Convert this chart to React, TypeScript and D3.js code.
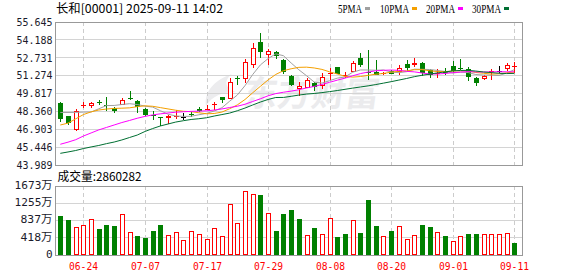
import React from 'react';
import * as d3 from 'd3';

// ---------- data ----------
const dates = [
  '06-19','06-20','06-23','06-24','06-25','06-26','06-27','06-30','07-02','07-03',
  '07-04','07-07','07-08','07-09','07-10','07-11','07-14','07-15','07-16','07-17',
  '07-18','07-21','07-22','07-23','07-24','07-25','07-28','07-29','07-30','07-31',
  '08-01','08-04','08-05','08-06','08-07','08-08','08-11','08-12','08-13','08-14',
  '08-15','08-18','08-19','08-20','08-21','08-22','08-25','08-26','08-27','08-28',
  '08-29','09-01','09-02','09-03','09-04','09-05','09-08','09-09','09-10','09-11',
];
const xTickLabels = ['06-24','07-07','07-17','07-29','08-08','08-20','09-01','09-11'];

const opens = [
  49.07,47.98,46.82,48.76,48.76,49.10,48.84,48.67,48.92,49.45,
  49.20,48.55,48.10,47.90,47.78,47.94,47.90,48.15,48.55,48.51,
  48.90,49.53,49.34,51.04,51.00,52.14,54.01,52.99,53.16,52.52,
  51.24,50.21,50.27,50.65,50.43,51.45,51.94,51.24,51.61,52.68,
  51.59,51.54,51.40,51.67,51.59,52.26,52.12,52.33,51.77,51.45,
  51.53,52.08,51.88,51.79,51.10,50.97,51.60,51.67,51.79,52.03,
];
const highs = [
  49.15,48.02,48.55,49.16,49.15,49.29,49.53,48.70,49.41,50.02,
  49.25,48.60,48.43,47.92,48.10,48.47,48.19,48.31,48.72,48.88,
  49.16,49.55,51.05,51.24,52.63,53.91,54.77,53.47,53.26,52.59,
  51.36,50.73,51.04,50.75,51.46,51.87,52.00,51.60,52.46,53.09,
  53.36,52.55,51.60,51.70,52.14,52.52,52.71,52.41,51.80,51.79,
  51.89,52.43,52.59,52.00,51.18,51.30,51.81,52.03,52.33,52.38,
];
const lows = [
  47.47,47.25,46.76,48.63,48.63,48.84,48.39,48.19,48.84,49.26,
  48.19,48.00,47.63,47.13,47.33,47.74,47.62,47.90,48.27,48.47,
  48.51,49.02,49.34,50.51,50.70,51.87,52.75,52.14,52.59,51.41,
  50.43,49.61,50.24,50.02,50.16,50.90,51.41,51.08,51.55,52.00,
  50.92,51.30,51.35,51.38,51.32,51.67,52.00,51.24,51.08,51.10,
  51.36,51.49,51.73,50.86,50.43,50.95,50.92,51.46,51.67,51.51,
];
const closes = [
  47.74,47.44,48.39,48.90,49.07,49.05,48.76,48.43,49.29,49.40,
  48.72,48.10,48.04,47.82,47.98,48.00,47.90,48.10,48.43,48.55,
  48.96,49.25,50.73,50.97,52.36,53.50,53.16,53.32,52.90,51.61,
  50.53,50.40,50.89,50.32,51.19,51.51,51.43,51.36,52.28,52.10,
  51.49,51.32,51.50,51.40,51.87,51.89,52.33,51.45,51.32,51.49,
  51.47,51.69,51.84,51.14,50.67,51.28,51.65,51.67,52.14,52.06,
];
// volume in 万 shares
const volumes = [
  946,849,672,728,866,631,728,703,994,550,
  461,412,582,728,485,550,364,574,509,380,
  655,461,1229,776,1544,1479,1455,1011,582,994,
  1091,873,485,655,509,897,437,509,841,534,
  1334,703,461,582,703,388,485,728,679,558,
  461,340,461,509,509,509,509,509,534,286,
];
// 1 = red (up vs previous close), 0 = green
const volumeUp = [
  0,0,1,1,1,0,0,0,1,1,
  0,0,0,0,1,1,1,1,1,1,
  1,1,1,1,1,1,0,1,0,0,
  0,0,1,0,1,1,0,0,1,0,
  0,0,1,0,1,1,1,0,0,1,
  0,1,1,0,0,1,1,1,1,0,
];
// moving averages before enough closes are on the chart
const ma5Head = [48.27, 48.27, 48.28, 48.30];
const ma10Head = [47.25, 47.40, 47.75, 48.10, 48.32, 48.47, 48.55, 48.60, 48.62];
const ma20Head = [45.68, 45.85, 46.05, 46.35, 46.60, 46.85, 47.05, 47.25, 47.45, 47.62,
  47.80, 47.95, 48.07, 48.16, 48.23, 48.29, 48.33, 48.36, 48.38];
const ma30Head = [44.94, 45.05, 45.17, 45.33, 45.46, 45.58, 45.73, 45.86, 46.03, 46.23,
  46.43, 46.72, 46.96, 47.17, 47.33, 47.49, 47.60, 47.70, 47.76, 47.84,
  47.98, 48.10, 48.22, 48.41, 48.63, 48.88, 49.12, 49.33, 49.49];

const priceTicks = [55.645, 54.188, 52.731, 51.274, 49.817, 48.360, 46.903, 45.446, 43.989];
const volumeTicks = [1673, 1255, 837, 418, 0];
const title = '长和[00001] 2025-09-11 14:02';
const volumeTitle = '成交量:2860282';
const legendNames = ['5PMA', '10PMA', '20PMA', '30PMA'];

// ---------- styles ----------
const RED = '#ff0000';
const GREEN = '#008000';
const MA_COLORS = ['#a0a0a0', '#f5a000', '#ff00ff', '#006f32'];
const GRID = '#d4d4d4';
const BORDER = '#999999';
const MONO = '"DejaVu Sans Mono", "Liberation Mono", "Noto Sans CJK SC", monospace';
const CJK = '"Noto Sans CJK SC", "DejaVu Sans Mono", sans-serif';

function movingAverage(n: number, head: number[]) {
  return closes.map((c, i) =>
    i < head.length ? head[i] : (d3.mean(closes.slice(i - n + 1, i + 1)) as number)
  );
}

export default function App() {
  const W = 578, H = 276;
  const L = 55, R = 522, PT = 22, PB = 165, VT = 186, VB = 255;

  const x = d3.scaleLinear().domain([0, dates.length - 1]).range([60.3, 514.3]);
  const y = d3.scaleLinear().domain([priceTicks[priceTicks.length - 1], priceTicks[0]]).range([PB, PT]);
  const yv = d3.scaleLinear().domain([0, volumeTicks[0]]).range([VB, VT]);

  const px = (i: number) => Math.round(x(i));
  const snap = (v: number) => Math.round(v) + 0.5;

  const mas = [
    movingAverage(5, ma5Head),
    movingAverage(10, ma10Head),
    movingAverage(20, ma20Head),
    movingAverage(30, ma30Head),
  ];
  const line = d3.line<number>().x((d, i) => x(i)).y((d) => y(d));

  const tickIdx = xTickLabels.map((l) => dates.indexOf(l));
  const legendX = [338, 380, 426, 472];
  const legendW = [24, 29, 29, 29];

  return (
    <svg width={W} height={H} style={{ position: 'absolute', left: 0, top: 0, background: '#fff' }}
      shapeRendering="auto">
      {/* title */}
      <text x={56} y={12.5} fontSize={12} fontFamily={CJK} fill="#000" textLength={167} lengthAdjust="spacingAndGlyphs">{title}</text>
      {/* legend */}
      {legendNames.map((n, k) => (
        <g key={n}>
          <text x={legendX[k]} y={12.5} fontSize={12} fontFamily="'Liberation Serif', serif" fill="#000"
            textLength={legendW[k]} lengthAdjust="spacingAndGlyphs">{n}</text>
          <rect x={legendX[k] + legendW[k] + 3} y={7} width={5} height={3} fill={MA_COLORS[k]} />
        </g>
      ))}

      {/* watermark */}
      <g opacity={1}>
        <path d="M232,74 C214,80 204,92 206,106 C212,96 222,92 236,92 C224,88 224,80 232,74 Z" fill="#ececee" />
        <text transform="translate(242,106) skewX(-8)" fontSize={35} fontWeight="bold" fontFamily={CJK} fill="#ebebed"
          textLength={136} lengthAdjust="spacingAndGlyphs">东方财富</text>
      </g>

      {/* price grid */}
      {priceTicks.slice(1, -1).map((t) => (
        <line key={t} x1={L} x2={R} y1={snap(y(t) - 0.5)} y2={snap(y(t) - 0.5)} stroke={GRID} strokeWidth={1} />
      ))}
      {tickIdx.map((i) => (
        <g key={i}>
          <line x1={px(i) + 0.5} x2={px(i) + 0.5} y1={PT} y2={PB} stroke="#cccccc" strokeDasharray="4,3" />
          <line x1={px(i) + 0.5} x2={px(i) + 0.5} y1={VT} y2={VB} stroke="#cccccc" strokeDasharray="4,3" />
        </g>
      ))}
      {/* volume grid */}
      {volumeTicks.slice(1, -1).map((t) => (
        <line key={t} x1={L} x2={R} y1={snap(yv(t) - 0.5)} y2={snap(yv(t) - 0.5)} stroke={GRID} />
      ))}

      {/* candles */}
      {closes.map((c, i) => {
        const o = opens[i];
        const color = c > o ? RED : c < o ? GREEN : '#000';
        const cx = px(i) + 0.5;
        const top = Math.round(y(Math.max(o, c)));
        const bot = Math.round(y(Math.min(o, c)));
        const hi = Math.round(y(highs[i]));
        const lo = Math.round(y(lows[i]));
        if (c > o && bot - top >= 3) {
          return (
            <g key={i}>
              <line x1={cx} x2={cx} y1={hi} y2={top} stroke={color} />
              <line x1={cx} x2={cx} y1={bot} y2={lo} stroke={color} />
              <rect x={cx - 2} y={top + 0.5} width={4} height={bot - top - 1} fill="#fff" stroke={color} />
            </g>
          );
        }
        return (
          <g key={i}>
            <line x1={cx} x2={cx} y1={hi} y2={lo} stroke={color} />
            <rect x={cx - 2.5} y={top} width={5} height={Math.max(1, bot - top)} fill={color} />
          </g>
        );
      })}

      {/* moving averages */}
      {mas.map((m, k) => (
        <path key={k} d={line(m) || ''} fill="none" stroke={MA_COLORS[k]} strokeWidth={1} />
      ))}

      {/* volume bars */}
      {volumes.map((v, i) => {
        const cx = px(i) + 0.5;
        const t = Math.round(yv(v));
        const up = volumeUp[i] === 1;
        return up ? (
          <rect key={i} x={cx - 2} y={t + 0.5} width={4} height={VB - t - 1} fill="#fff" stroke={RED} />
        ) : (
          <rect key={i} x={cx - 2.5} y={t} width={5} height={VB - t} fill={GREEN} />
        );
      })}

      {/* frames */}
      <rect x={L + 0.5} y={PT + 0.5} width={R - L} height={PB - PT} fill="none" stroke={BORDER} />
      <rect x={L + 0.5} y={VT + 0.5} width={R - L} height={VB - VT} fill="none" stroke={BORDER} />

      {/* price axis labels */}
      {priceTicks.map((t) => (
        <text key={t} x={52.5} y={y(t)} dy="0.35em" textAnchor="end" fontSize={11} fontFamily={MONO}
          fill="#1b1b2b" textLength={36} lengthAdjust="spacingAndGlyphs">{t.toFixed(3)}</text>
      ))}
      {/* volume title */}
      <text x={57.5} y={181} fontSize={12} fontFamily={CJK} fill="#000" textLength={84} lengthAdjust="spacingAndGlyphs">{volumeTitle}</text>
      {/* volume axis labels */}
      {volumeTicks.map((t) => {
        const s = t === 0 ? '0' : `${t}万`;
        return (
          <text key={t} x={52.5} y={yv(t) - 1} dy="0.35em" textAnchor="end" fontSize={11} fontFamily={MONO}
            fill="#1b1b2b" {...(t === 0 ? {} : { textLength: s.length === 5 ? 38 : 32, lengthAdjust: 'spacingAndGlyphs' })}>{s}</text>
        );
      })}
      {/* x axis labels */}
      {tickIdx.map((i, k) => (
        <text key={i} x={px(i) + 0.5} y={270} textAnchor="middle" fontSize={11} fontFamily={MONO} fill={RED}
          textLength={29} lengthAdjust="spacingAndGlyphs">{xTickLabels[k]}</text>
      ))}
    </svg>
  );
}
